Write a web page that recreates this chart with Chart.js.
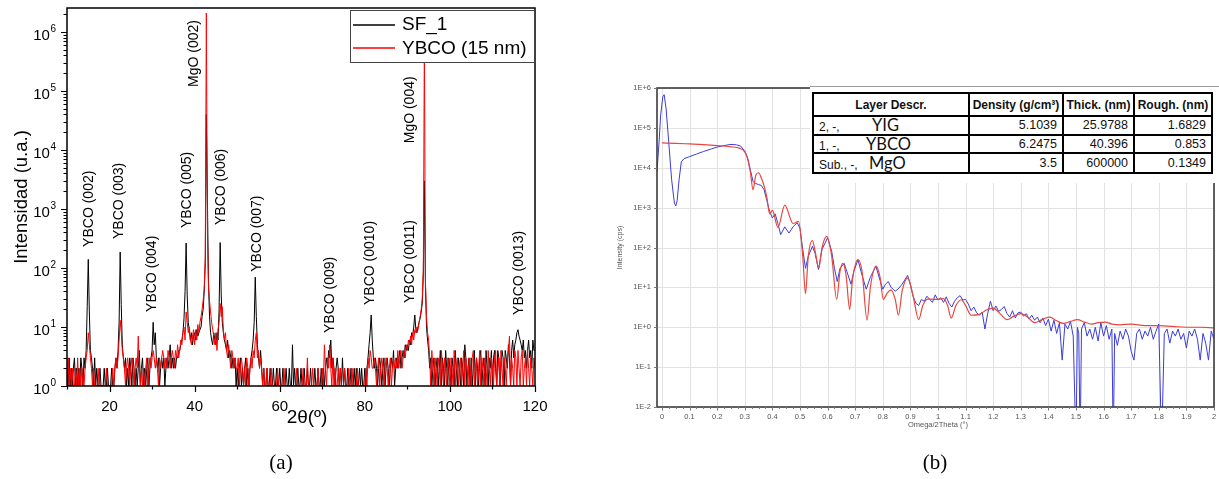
<!DOCTYPE html>
<html><head><meta charset="utf-8">
<script src="https://cdn.jsdelivr.net/npm/chart.js@4.4.0/dist/chart.umd.min.js"></script>
<style>
body{margin:0;background:#fff;width:1219px;height:479px;overflow:hidden;position:relative;}
#cA{position:absolute;left:0;top:0;}
#cB{position:absolute;left:600px;top:0;}
#tblbox{position:absolute;left:810px;top:86px;width:409px;height:96px;background:#fff;border-top:1px solid #9a9a9a;}
#tbl{position:absolute;left:2px;top:5px;border-collapse:collapse;table-layout:fixed;width:399px;border:2.5px solid #000;font-family:"Liberation Sans",Arial,sans-serif;color:#111;}
#tbl td,#tbl th{border:2px solid #000;padding:0 5px;white-space:nowrap;overflow:hidden;font-size:12.5px;line-height:1;}
#tbl th{font-weight:bold;font-size:12px;text-align:center;padding:0 1px;height:21px;}
#tbl td{height:16px;text-align:right;}
#tbl tr:last-child td{height:18px;}
#tbl td.name{text-align:left;}
#tbl .pre{display:inline-block;font-size:12px;}
#tbl .mat{font-family:Lato,"Open Sans",sans-serif;font-size:16.5px;}
</style></head>
<body>
<canvas id="cA" width="600" height="479"></canvas>
<canvas id="cB" width="619" height="479"></canvas>
<div id="tblbox"><table id="tbl"><colgroup><col style="width:156px"><col style="width:94px"><col style="width:71px"><col style="width:78px"></colgroup><thead><tr id="thr"></tr></thead><tbody id="tbb"></tbody></table></div>
<script>
// ================= (a) XRD pattern =================
const scanStart = 10;   // 2θ of first sample (deg)
const scanStep = 0.25;  // sampling step (deg)
// SF_1 counts, one row per 5 degrees
const sf1Counts = [
 2,1,3,1, 2,1,2,3, 1,2,1,2, 1,3,2,1, 3,2,4,22,
 140,18,4,3, 2,1,3,1, 2,1,1,2, 1,1,1,2, 1,1,2,1,
 1,1,2,1, 1,2,3,2, 4,12,186,24, 5,3,2,3, 1,2,1,3,
 2,1,3,2, 1,2,1,2, 4,1,2,3, 1,2,1,2, 3,1,2,3,
 4,12,5,8, 3,2,3,1, 2,3,2,3, 1,2,3,2, 3,5,2,3,
 2,3,2,3, 3,4,4,5, 6,8,14,40, 265,35,12,9, 6,8,5,7,
 8,6,9,7, 8,9,10,15, 20,40,120,40000, 1500,60,15,8, 6,5,8,6,
 5,8,6,20, 270,35,12,8, 6,5,4,6, 3,4,3,2, 3,2,3,1,
 2,1,2,3, 1,2,1,2, 3,1,2,1, 2,3,4,6, 12,70,15,5,
 3,2,4,2, 1,2,1,1, 2,1,1,2, 1,1,2,1, 1,2,1,1,
 2,1,1,2, 1,1,2,1, 1,2,1,1, 5,1,2,1, 1,2,1,1,
 2,1,1,2, 1,1,2,1, 1,2,1,1, 1,2,1,1, 2,1,1,2,
 1,2,1,2, 3,2,4,3, 6,2,3,2, 1,2,3,2, 1,2,1,3,
 1,2,1,1, 2,1,1,2, 1,1,2,1, 2,1,1,2, 1,2,1,1,
 2,1,2,3, 5,8,16,6, 3,2,3,2, 1,2,3,2, 1,2,3,1,
 2,3,2,1, 2,3,2,4, 1,2,3,2, 3,4,2,3, 4,3,5,4,
 5,4,6,5, 8,7,10,16, 9,8,10,12, 14,18,25,80, 3000,50,10,6,
 4,2,3,1, 2,3,1,2, 3,1,2,4, 1,3,2,1, 4,2,1,3,
 2,1,3,2, 1,4,2,1, 3,2,1,3, 2,1,5,3, 1,2,3,1,
 3,1,2,4, 1,3,2,1, 3,4,1,2, 3,1,4,2, 1,3,2,4,
 1,3,4,2, 1,4,3,1, 2,4,3,1, 4,3,2,5, 3,1,4,6,
 3,5,6,8, 9,7,6,5, 4,6,3,4, 2,4,6,3, 4,2,6,4,
 4
];
// YBCO (15 nm) counts
const ybcoCounts = [
 1,3,1,2, 1,2,1,1, 2,1,3,1, 2,1,2,1, 1,2,3,4,
 8,5,3,2, 1,2,1,1, 1,1,2,1, 1,1,1,1, 1,2,1,1,
 1,1,1,2, 1,2,3,2, 3,6,13,8, 4,3,2,1, 2,3,2,1,
 2,3,2,1, 2,3,2,7, 2,1,2,1, 2,1,2,3, 1,2,3,2,
 3,4,3,2, 3,2,1,3, 2,3,4,3, 2,3,2,4, 3,2,3,4,
 3,2,4,3, 5,3,4,6, 5,8,10,6, 18,12,8,10, 6,5,7,9,
 5,9,6,11, 8,12,15,20, 28,45,150,2100000, 400,50,28,18, 12,9,7,5,
 8,4,9,12, 25,15,22,9, 6,8,4,3, 5,3,2,4, 3,2,3,2,
 2,3,1,2, 3,2,1,2, 1,3,2,1, 2,3,2,4, 3,6,8,3,
 4,2,3,2, 1,2,1,1, 2,1,1,1, 2,1,1,1, 1,1,2,1,
 1,1,1,1, 2,1,1,1, 1,1,1,1, 1,1,1,1, 2,1,1,1,
 1,1,2,1, 1,1,3,1, 1,1,1,2, 1,1,1,1, 2,1,1,1,
 2,1,5,2, 1,3,2,5, 2,1,3,1, 2,1,1,2, 1,2,1,1,
 1,2,1,1, 1,2,1,1, 2,1,1,1, 1,2,1,1, 1,1,1,1,
 1,2,1,3, 2,4,3,2, 2,3,2,1, 2,3,1,2, 3,2,1,2,
 3,2,1,2, 3,1,2,3, 2,3,2,4, 2,3,4,2, 3,4,3,5,
 4,6,5,7, 5,8,6,9, 8,10,9,12, 15,20,30,90, 800000,60,15,8,
 6,3,1,4, 2,1,3,2, 1,3,2,1, 4,2,1,3, 2,1,3,2,
 1,3,2,1, 4,1,2,3, 1,2,3,1, 2,4,1,3, 2,1,3,2,
 1,3,4,1, 2,3,1,2, 4,1,3,2, 1,3,2,1, 4,2,1,3,
 2,1,3,4, 1,2,3,1, 4,2,1,3, 2,1,3,4, 7,1,3,2,
 1,4,3,1, 4,2,1,3, 4,1,2,3, 1,4,2,1, 3,2,1,3,
 2
];
const xrdXTicks = [20, 40, 60, 80, 100, 120];
const xrdYDecades = [0, 1, 2, 3, 4, 5, 6];
const peakNames = ['YBCO (002)','YBCO (003)','YBCO (004)','YBCO (005)','MgO (002)','YBCO (006)','YBCO (007)','YBCO (009)','YBCO (0010)','YBCO (0011)','MgO (004)','YBCO (0013)'];
const peakLabelAt = [15.2, 22.3, 30.1, 38.25, 39.9, 46.2, 54.6, 71.9, 81.3, 90.7, 90.7, 116.2];
const peakLabelBase = [228, 310, 18, 475, 117000, 535, 86, 7.9, 23.6, 25.5, 13000, 16];

// ================= (b) XRR =================
const xrrMeasured = [
 [-0.018,8000],[-0.01,50000],[-0.005,200000],[0.003,600000],[0.008,680000],[0.015,300000],[0.025,40000],[0.035,5000],[0.045,1300],[0.05,1100],
 [0.055,1500],[0.062,5000],[0.07,14000],[0.08,17000],[0.1,19000],[0.125,22000],[0.15,25500],[0.175,29000],[0.2,33000],[0.225,36000],
 [0.25,38500],[0.27,37500],[0.285,35000],[0.3,26000],[0.31,18000],[0.32,9000],[0.33,4500],[0.34,4000],[0.35,3800],[0.36,3600],
 [0.37,2800],[0.38,1500],[0.39,800],[0.4,550],[0.41,700],[0.42,400],[0.43,210],[0.445,330],[0.46,230],[0.475,330],
 [0.49,420],[0.5,300],[0.51,90],[0.52,30],[0.53,60],[0.545,107],[0.555,70],[0.567,28],[0.58,90],[0.6,175],
 [0.615,80],[0.625,30],[0.635,14],[0.645,30],[0.66,40],[0.67,25],[0.685,12],[0.695,25],[0.71,49],[0.725,20],
 [0.74,9],[0.755,18],[0.775,34],[0.79,15],[0.8,9],[0.81,12],[0.82,14],[0.83,10],[0.845,8],[0.855,9],
 [0.87,12],[0.89,20],[0.9,12],[0.91,6],[0.92,4],[0.93,3.5],[0.94,5],
 [0.95,4.5],[0.96,6],[0.97,5],[0.98,4.2],[0.99,6.5],[1.0,4.8],[1.01,5.5],[1.02,4.2],[1.03,5.8],[1.04,4.0],
 [1.05,3.2],[1.06,4.5],[1.07,5.5],[1.08,6.2],[1.09,4.8],[1.1,5.0],[1.11,3.8],[1.12,2.6],[1.13,3.2],[1.14,2.3],
 [1.15,2.0],[1.16,2.4],[1.17,0.9],[1.18,2.2],[1.19,4.5],[1.2,2.6],[1.21,3.4],[1.22,2.5],[1.23,2.8],[1.24,3.3],
 [1.25,2.2],[1.26,1.8],[1.27,2.6],[1.28,1.7],[1.29,2.3],[1.3,2.4],[1.31,1.9],[1.32,2.2],[1.33,1.6],[1.34,2.0],
 [1.35,1.5],[1.36,1.8],[1.37,1.3],[1.38,1.7],[1.39,1.1],[1.4,1.6],[1.41,0.8],[1.42,1.5],[1.43,0.7],[1.44,1.3],
 [1.45,0.15],[1.46,1.2],[1.47,0.9],[1.48,1.4],[1.49,0.6],[1.5,0.001],[1.505,1.0],[1.51,0.7],[1.515,0.001],[1.52,0.9],
 [1.53,1.3],[1.54,0.6],[1.55,0.9],[1.56,0.5],[1.57,1.0],[1.58,0.45],[1.59,1.3],[1.6,0.6],[1.61,1.1],[1.62,0.5],
 [1.63,0.9],[1.635,0.001],[1.64,0.7],[1.65,0.35],[1.66,0.8],[1.67,0.5],[1.68,0.9],[1.69,0.6],[1.7,0.25],[1.71,0.15],
 [1.72,0.7],[1.73,0.9],[1.74,0.5],[1.75,0.8],[1.76,0.6],[1.77,1.0],[1.78,0.5],[1.79,0.8],[1.8,1.2],[1.81,0.001],
 [1.82,0.7],[1.83,0.9],[1.84,0.4],[1.85,0.8],[1.86,0.6],[1.87,0.9],[1.88,0.5],[1.89,0.7],[1.9,0.3],[1.91,0.8],
 [1.92,0.6],[1.93,0.9],[1.94,0.5],[1.95,0.15],[1.96,0.7],[1.97,0.4],[1.98,0.15],[1.99,0.8],[2.0,0.5]
];
const xrrSimulated = [
 [0,42000],[0.05,41000],[0.1,39500],[0.15,38000],[0.2,36000],[0.25,33500],[0.28,31000],[0.3,25000],[0.31,17000],[0.32,8000],
 [0.33,2800],[0.34,6500],[0.35,7500],[0.36,5500],[0.37,3500],[0.38,1800],[0.39,700],[0.4,850],[0.42,320],[0.445,1150],
 [0.475,400],[0.495,450],[0.51,60],[0.52,7],[0.53,60],[0.545,150],[0.555,80],[0.568,30],[0.58,100],[0.597,190],
 [0.615,60],[0.633,5],[0.645,25],[0.655,40],[0.667,20],[0.68,2.8],[0.69,15],[0.71,50],[0.725,25],[0.743,1.5],
 [0.755,10],[0.776,34],[0.79,18],[0.802,5],[0.815,7],[0.83,8.7],[0.845,5],[0.857,2],[0.87,8],[0.89,17],
 [0.91,6],[0.93,1.55],[0.945,3.5],[0.962,5.1],[0.99,5],[1.02,5.2],[1.035,3.5],[1.048,1.7],[1.065,3.5],[1.084,4.9],
 [1.1,3.5],[1.12,2.0],[1.15,2.1],[1.175,2.7],[1.2,3.0],[1.225,2.2],[1.25,1.55],[1.275,1.9],[1.3,2.2],[1.325,1.8],
 [1.35,1.3],[1.38,1.6],[1.405,1.8],[1.43,1.45],[1.455,1.25],[1.48,1.4],[1.505,1.55],[1.53,1.35],[1.556,1.2],[1.58,1.3],
 [1.606,1.35],[1.63,1.2],[1.66,1.15],[1.7,1.2],[1.75,1.1],[1.8,1.1],[1.85,1.05],[1.9,1.0],[1.95,1.0],[2.0,0.97]
];
const xrrXTicks = ['0','0.1','0.2','0.3','0.4','0.5','0.6','0.7','0.8','0.9','1','1.1','1.2','1.3','1.4','1.5','1.6','1.7','1.8','1.9','2'];
const xrrYTicks = ['1E-2','1E-1','1E+0','1E+1','1E+2','1E+3','1E+4','1E+5','1E+6'];
const tableHeaders = ['Layer Descr.','Density (g/cm³)','Thick. (nm)','Rough. (nm)'];
const layerPrefix = ['2, -,','1, -,','Sub., -,'];
const layerMaterial = ['YIG','YBCO','MgO'];
const layerDensity = ['5.1039','6.2475','3.5'];
const layerThickness = ['25.9788','40.396','600000'];
const layerRoughness = ['1.6829','0.853','0.1349'];

// ================= drawing =================
const F = '"Liberation Sans", Arial, sans-serif';
function txt(ctx, s, x, y, font, align, base, color) {
  ctx.font = font; ctx.textAlign = align; ctx.textBaseline = base;
  ctx.fillStyle = color || '#000'; ctx.fillText(s, x, y);
}

const xrdDecor = {
  id: 'xrdDecor',
  afterDatasetsDraw(chart) {
    const { ctx, chartArea: a, scales: { x, y } } = chart;
    ctx.save();
    // peak labels
    peakNames.forEach((n, i) => {
      const px = x.getPixelForValue(peakLabelAt[i]);
      const py = y.getPixelForValue(peakLabelBase[i]);
      ctx.save(); ctx.translate(px, py); ctx.rotate(-Math.PI / 2);
      txt(ctx, n, 0, 0, '14px ' + F, 'left', 'middle');
      ctx.restore();
    });
    // frame
    ctx.strokeStyle = '#000'; ctx.lineWidth = 1.5;
    ctx.strokeRect(a.left, a.top, a.right - a.left, a.bottom - a.top);
    // ticks
    ctx.lineWidth = 1.2; ctx.beginPath();
    for (let v = 10; v <= 120; v += 10) {
      const px = Math.round(x.getPixelForValue(v)) + 0.5;
      const L = (v % 20 === 0) ? 6 : 3.5;
      ctx.moveTo(px, a.bottom); ctx.lineTo(px, a.bottom + L);
    }
    xrdYDecades.forEach(d => {
      for (let m = 1; m <= 9; m++) {
        const val = m * Math.pow(10, d);
        if (val > y.max) break;
        const py = Math.round(y.getPixelForValue(val)) + 0.5;
        const L = m === 1 ? 6 : 3.5;
        ctx.moveTo(a.left - L, py); ctx.lineTo(a.left, py);
      }
    });
    ctx.stroke();
    // tick labels
    xrdXTicks.forEach(v => txt(ctx, String(v), x.getPixelForValue(v), a.bottom + 21, '15px ' + F, 'center', 'middle'));
    xrdYDecades.forEach(d => {
      const py = y.getPixelForValue(Math.pow(10, d));
      const right = a.left - 11;
      ctx.font = '10px ' + F;
      const sw = ctx.measureText(String(d)).width;
      txt(ctx, String(d), right, py - 3, '10px ' + F, 'right', 'middle');
      txt(ctx, '10', right - sw - 0.5, py + 4, '15px ' + F, 'right', 'middle');
    });
    // axis titles
    ctx.save(); ctx.translate(22, 197); ctx.rotate(-Math.PI / 2);
    txt(ctx, 'Intensidad (u.a.)', 0, 0, '18.5px ' + F, 'center', 'middle');
    ctx.restore();
    txt(ctx, '2θ(º)', 307, 418, '19px ' + F, 'center', 'middle');
    // legend
    ctx.fillStyle = '#fff'; ctx.fillRect(350, 10, 184, 52);
    ctx.strokeStyle = '#444'; ctx.lineWidth = 1; ctx.strokeRect(350.5, 10.5, 184, 52);
    ctx.lineWidth = 1.3;
    ctx.strokeStyle = '#000'; ctx.beginPath(); ctx.moveTo(353, 25); ctx.lineTo(395, 25); ctx.stroke();
    ctx.strokeStyle = '#ff0000'; ctx.beginPath(); ctx.moveTo(353, 48); ctx.lineTo(395, 48); ctx.stroke();
    txt(ctx, 'SF_1', 402, 25, '19px ' + F, 'left', 'middle');
    txt(ctx, 'YBCO (15 nm)', 402, 49, '19px ' + F, 'left', 'middle');
    // caption
    txt(ctx, '(a)', 281, 463, '21px "Liberation Serif", "DejaVu Serif", serif', 'center', 'middle');
    ctx.restore();
  }
};

const xrrDecor = {
  id: 'xrrDecor',
  beforeDatasetsDraw(chart) {
    const { ctx, chartArea: a, scales: { x, y } } = chart;
    ctx.save(); ctx.strokeStyle = '#e2e2e2'; ctx.lineWidth = 1; ctx.beginPath();
    xrrXTicks.forEach(t => { const px = Math.round(x.getPixelForValue(+t)) + 0.5; ctx.moveTo(px, a.top); ctx.lineTo(px, a.bottom); });
    xrrYTicks.forEach(t => { const py = Math.round(y.getPixelForValue(+t)) + 0.5; ctx.moveTo(a.left, py); ctx.lineTo(a.right, py); });
    ctx.stroke(); ctx.restore();
  },
  afterDatasetsDraw(chart) {
    const { ctx, chartArea: a, scales: { x, y } } = chart;
    ctx.save();
    ctx.strokeStyle = '#3c3c3c'; ctx.lineWidth = 1.6;
    ctx.strokeRect(a.left, a.top, a.right - a.left, a.bottom - a.top);
    ctx.strokeStyle = '#777'; ctx.lineWidth = 1; ctx.beginPath();
    for (let k = 0; k <= 80; k++) {
      const px = Math.round(x.getPixelForValue(k * 0.025)) + 0.5;
      const L = (k % 4 === 0) ? 3.5 : 2;
      ctx.moveTo(px, a.bottom); ctx.lineTo(px, a.bottom + L);
    }
    xrrYTicks.forEach(t => { const py = Math.round(y.getPixelForValue(+t)) + 0.5; ctx.moveTo(a.left - 3, py); ctx.lineTo(a.left, py); });
    ctx.stroke();
    const f = '7.5px ' + F, c = '#555';
    xrrXTicks.forEach(t => txt(ctx, t, x.getPixelForValue(+t), a.bottom + 10, f, 'center', 'middle', c));
    xrrYTicks.forEach(t => txt(ctx, t, a.left - 6, y.getPixelForValue(+t), f, 'right', 'middle', c));
    txt(ctx, 'Omega/2Theta (°)', x.getPixelForValue(1), a.bottom + 18, f, 'center', 'middle', c);
    ctx.save(); ctx.translate(20, (a.top + a.bottom) / 2); ctx.rotate(-Math.PI / 2);
    txt(ctx, 'Intensity (cps)', 0, 0, '7px ' + F, 'center', 'middle', c);
    ctx.restore();
    txt(ctx, '(b)', 335, 463, '21px "Liberation Serif", "DejaVu Serif", serif', 'center', 'middle');
    ctx.restore();
  }
};

const toScan = arr => arr.map((c, i) => ({ x: scanStart + i * scanStep, y: c }));
const toXY = arr => arr.map(p => ({ x: p[0], y: p[1] }));
const common = {
  responsive: false, animation: false, devicePixelRatio: 1, events: [],
  plugins: { legend: { display: false }, tooltip: { enabled: false }, title: { display: false } }
};

new Chart(document.getElementById('cA'), {
  type: 'line',
  data: { datasets: [
    { label: 'YBCO (15 nm)', data: toScan(ybcoCounts), borderColor: '#ff0000', borderWidth: 1, pointRadius: 0, tension: 0 },
    { label: 'SF_1', data: toScan(sf1Counts), borderColor: '#000000', borderWidth: 1, pointRadius: 0, tension: 0 }
  ] },
  options: Object.assign({}, common, {
    layout: { padding: { left: 67, top: 8, right: 65, bottom: 93 } },
    scales: {
      x: { type: 'linear', min: 10, max: 120, display: false },
      y: { type: 'logarithmic', min: 1, max: 2.55e6, display: false }
    }
  }),
  plugins: [xrdDecor]
});

new Chart(document.getElementById('cB'), {
  type: 'line',
  data: { datasets: [
    { label: 'Simulation', data: toXY(xrrSimulated), borderColor: '#e8473f', borderWidth: 1.2, pointRadius: 0, cubicInterpolationMode: 'monotone' },
    { label: 'Measured', data: toXY(xrrMeasured), borderColor: '#3c3cd6', borderWidth: 1, pointRadius: 0, tension: 0 }
  ] },
  options: Object.assign({}, common, {
    layout: { padding: { left: 57, top: 88, right: 5, bottom: 72 } },
    scales: {
      x: { type: 'linear', min: -0.018, max: 2, display: false },
      y: { type: 'logarithmic', min: 0.01, max: 1e6, display: false }
    }
  }),
  plugins: [xrrDecor]
});

// table
const thr = document.getElementById('thr');
tableHeaders.forEach(h => { const th = document.createElement('th'); th.textContent = h; thr.appendChild(th); });
const prefixWidth = [53, 47, 50];
const tbb = document.getElementById('tbb');
layerMaterial.forEach((m, i) => {
  const tr = document.createElement('tr');
  const td0 = document.createElement('td'); td0.className = 'name';
  const pre = document.createElement('span'); pre.className = 'pre'; pre.style.width = prefixWidth[i] + 'px'; pre.textContent = layerPrefix[i];
  const mat = document.createElement('span'); mat.className = 'mat'; mat.textContent = m;
  td0.appendChild(pre); td0.appendChild(mat); tr.appendChild(td0);
  [layerDensity[i], layerThickness[i], layerRoughness[i]].forEach(v => { const td = document.createElement('td'); td.textContent = v; tr.appendChild(td); });
  tbb.appendChild(tr);
});
</script>
</body></html>
